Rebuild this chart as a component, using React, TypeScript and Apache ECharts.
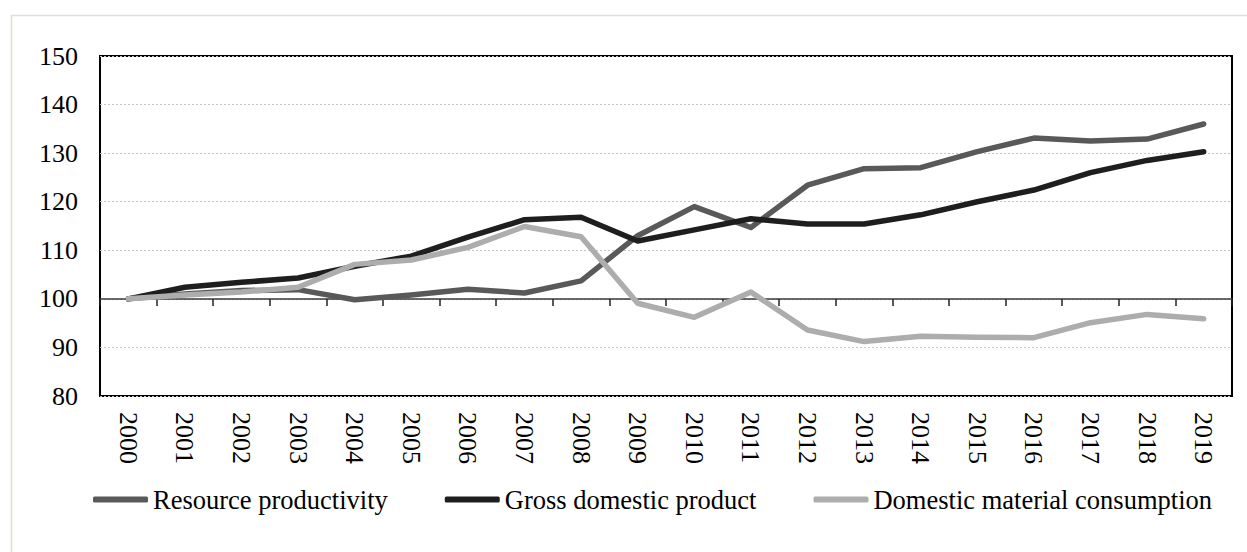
import React, { useEffect, useRef } from "react";
import * as echarts from "echarts";

const years = ["2000","2001","2002","2003","2004","2005","2006","2007","2008","2009","2010","2011","2012","2013","2014","2015","2016","2017","2018","2019"];
const resourceProductivity = [100, 101.0, 101.7, 101.9, 99.8, 100.8, 102.0, 101.2, 103.7, 113.0, 119.0, 114.7, 123.4, 126.8, 127.0, 130.3, 133.1, 132.5, 132.9, 136.0];
const gdp = [100, 102.4, 103.4, 104.3, 106.7, 108.8, 112.7, 116.3, 116.8, 111.9, 114.2, 116.5, 115.4, 115.4, 117.3, 120.0, 122.4, 126.0, 128.5, 130.3];
const dmc = [100, 100.8, 101.4, 102.4, 107.1, 108.0, 110.6, 114.9, 112.8, 99.1, 96.2, 101.4, 93.6, 91.2, 92.3, 92.1, 92.0, 95.1, 96.8, 95.9];
const seriesNames = ["Resource productivity", "Gross domestic product", "Domestic material consumption"];
const yMin = 80, yMax = 150, yStep = 10;

const FONT = "Liberation Serif, Times New Roman, serif";

export default function App() {
  const ref = useRef<HTMLDivElement>(null);
  useEffect(() => {
    if (!ref.current) return;
    const chart = echarts.init(ref.current, null, { renderer: "svg" });
    const colors = ["#595959", "#1e1e1e", "#adadad"];
    const values = [resourceProductivity, gdp, dmc];
    chart.setOption({
      animation: false,
      backgroundColor: "#ffffff",
      textStyle: { fontFamily: FONT },
      graphic: [
        {
          type: "rect",
          left: 9,
          top: 13,
          shape: { x: 0, y: 0, width: 1260, height: 560 },
          style: { fill: "none", stroke: "#e2ddcd", lineWidth: 1.5 },
          silent: true,
          z: -10,
        },
      ],
      grid: {
        left: 100,
        top: 56,
        right: 15,
        bottom: 156,
        show: true,
        borderColor: "#000000",
        borderWidth: 2,
        backgroundColor: "transparent",
      },
      legend: {
        left: 93,
        top: 486,
        padding: 0,
        icon: "roundRect",
        itemWidth: 55,
        itemHeight: 6,
        itemGap: 57,
        data: seriesNames,
        textStyle: { fontFamily: FONT, fontSize: 26.5, color: "#000" },
      },
      xAxis: [
        {
          type: "category",
          data: years,
          boundaryGap: true,
          position: "bottom",
          axisLine: { show: false, onZero: false },
          axisTick: { show: false },
          axisLabel: {
            rotate: -90,
            margin: 16,
            fontFamily: FONT,
            fontSize: 26,
            color: "#000",
            interval: 0,
          },
        },
        {
          type: "category",
          data: years,
          boundaryGap: true,
          position: "bottom",
          offset: -97,
          axisLine: { show: true, onZero: false, lineStyle: { color: "#3a3a3a", width: 1.5 } },
          axisTick: { show: true, length: 7, inside: false, lineStyle: { color: "#222", width: 1.5 }, interval: 0 },
          axisLabel: { show: false },
        },
      ],
      yAxis: {
        type: "value",
        min: yMin,
        max: yMax,
        interval: yStep,
        axisLine: { show: false },
        axisTick: { show: false },
        axisLabel: { margin: 22, fontFamily: FONT, fontSize: 26, color: "#000" },
        splitLine: { show: true, lineStyle: { color: "#c4c4c4", type: [2, 2], width: 1 } },
      },
      series: seriesNames.map((name, i) => ({
        name,
        type: "line",
        xAxisIndex: 0,
        data: values[i],
        symbol: "none",
        showSymbol: false,
        color: colors[i],
        lineStyle: { color: colors[i], width: 5.5, cap: "round", join: "round" },
        itemStyle: { color: colors[i] },
        z: 3 + i,
      })),
    });
    return () => chart.dispose();
  }, []);
  return (
    <div
      ref={ref}
      style={{ position: "fixed", left: 0, top: 0, width: 1247, height: 552, background: "#fff" }}
    />
  );
}
